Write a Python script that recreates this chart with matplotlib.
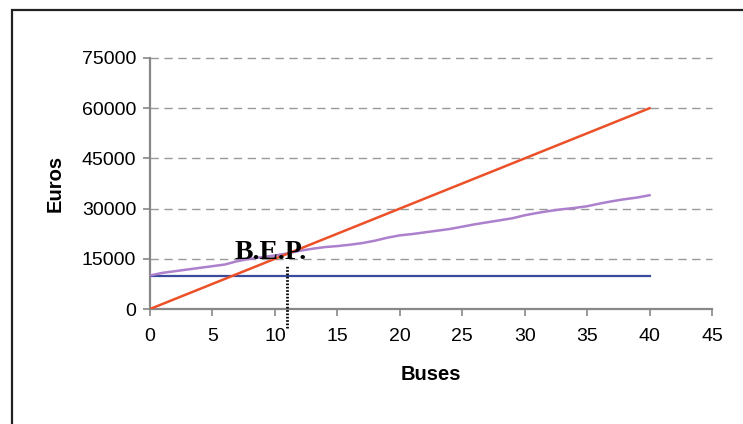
# Break-even chart: revenue, total cost and fixed cost against number of buses
import matplotlib.pyplot as plt
from matplotlib.patches import Rectangle

plt.rcParams['font.family'] = ['Liberation Sans', 'DejaVu Sans']

# Data
buses = list(range(0, 41))
revenue = [1500 * b for b in buses]
total_cost = [10000, 10800, 11300, 11800, 12300, 12800, 13300, 14300, 15000, 15500,
              16000, 16600, 17400, 18000, 18500, 18800, 19200, 19700, 20400, 21300,
              22000, 22400, 22900, 23400, 23900, 24600, 25300, 25900, 26500, 27100,
              28000, 28700, 29300, 29800, 30200, 30700, 31500, 32200, 32800, 33300,
              34000]
fixed_x = [0, 40]
fixed_cost = [10000, 10000]
bep_x = 11
bep_top = 13000
xTicks = [0, 5, 10, 15, 20, 25, 30, 35, 40, 45]
yTicks = [0, 15000, 30000, 45000, 60000, 75000]


def main():
    fig = plt.figure(figsize=(7.43, 4.24), dpi=100)
    ax = fig.add_axes([150 / 743, 1 - 309 / 424, 562 / 743, 251 / 424])

    # outer frame (only top and left visible in the original crop)
    fig.patches.append(Rectangle((12 / 743, -0.1), 2.0, 1 - 10 / 424 + 0.1,
                                 transform=fig.transFigure, fill=False,
                                 edgecolor='#222222', linewidth=1.6))

    for y in yTicks[1:]:
        ax.plot([0, 45], [y, y], color='#999999', linewidth=1.0,
                dashes=(6, 4), zorder=1, clip_on=False)

    ax.plot(fixed_x, fixed_cost, color='#3a4a9c', linewidth=1.6, zorder=3)
    ax.plot(buses, total_cost, color='#ac80cc', linewidth=1.8, zorder=3)
    ax.plot(buses, revenue, color='#ec5028', linewidth=1.8, zorder=4)

    ax.plot([bep_x, bep_x], [-5700, bep_top], color='black', linewidth=2.0,
            linestyle=(0, (0.6, 0.6)), zorder=5, clip_on=False)
    ax.text(6.8, 15000, 'B.E.P.', family=['Liberation Serif'], fontweight='bold',
            fontsize=20, ha='left', va='baseline', zorder=6)

    ax.set_xlim(0, 45)
    ax.set_ylim(0, 75000)
    ax.set_xticks(xTicks)
    ax.set_yticks(yTicks)
    ax.tick_params(labelsize=14, color='#888888', length=5, width=1.2)
    ax.tick_params(axis='y', pad=5)
    ax.tick_params(axis='x', pad=9)
    for side in ['top', 'right']:
        ax.spines[side].set_visible(False)
    for side in ['left', 'bottom']:
        ax.spines[side].set_color('#888888')
        ax.spines[side].set_linewidth(1.6)

    ax.set_xlabel('Buses', fontsize=14.5, fontweight='bold', labelpad=14)
    ax.set_ylabel('Euros', fontsize=14.5, fontweight='bold', labelpad=12)

    fig.savefig('out.png', dpi=100)


main()
